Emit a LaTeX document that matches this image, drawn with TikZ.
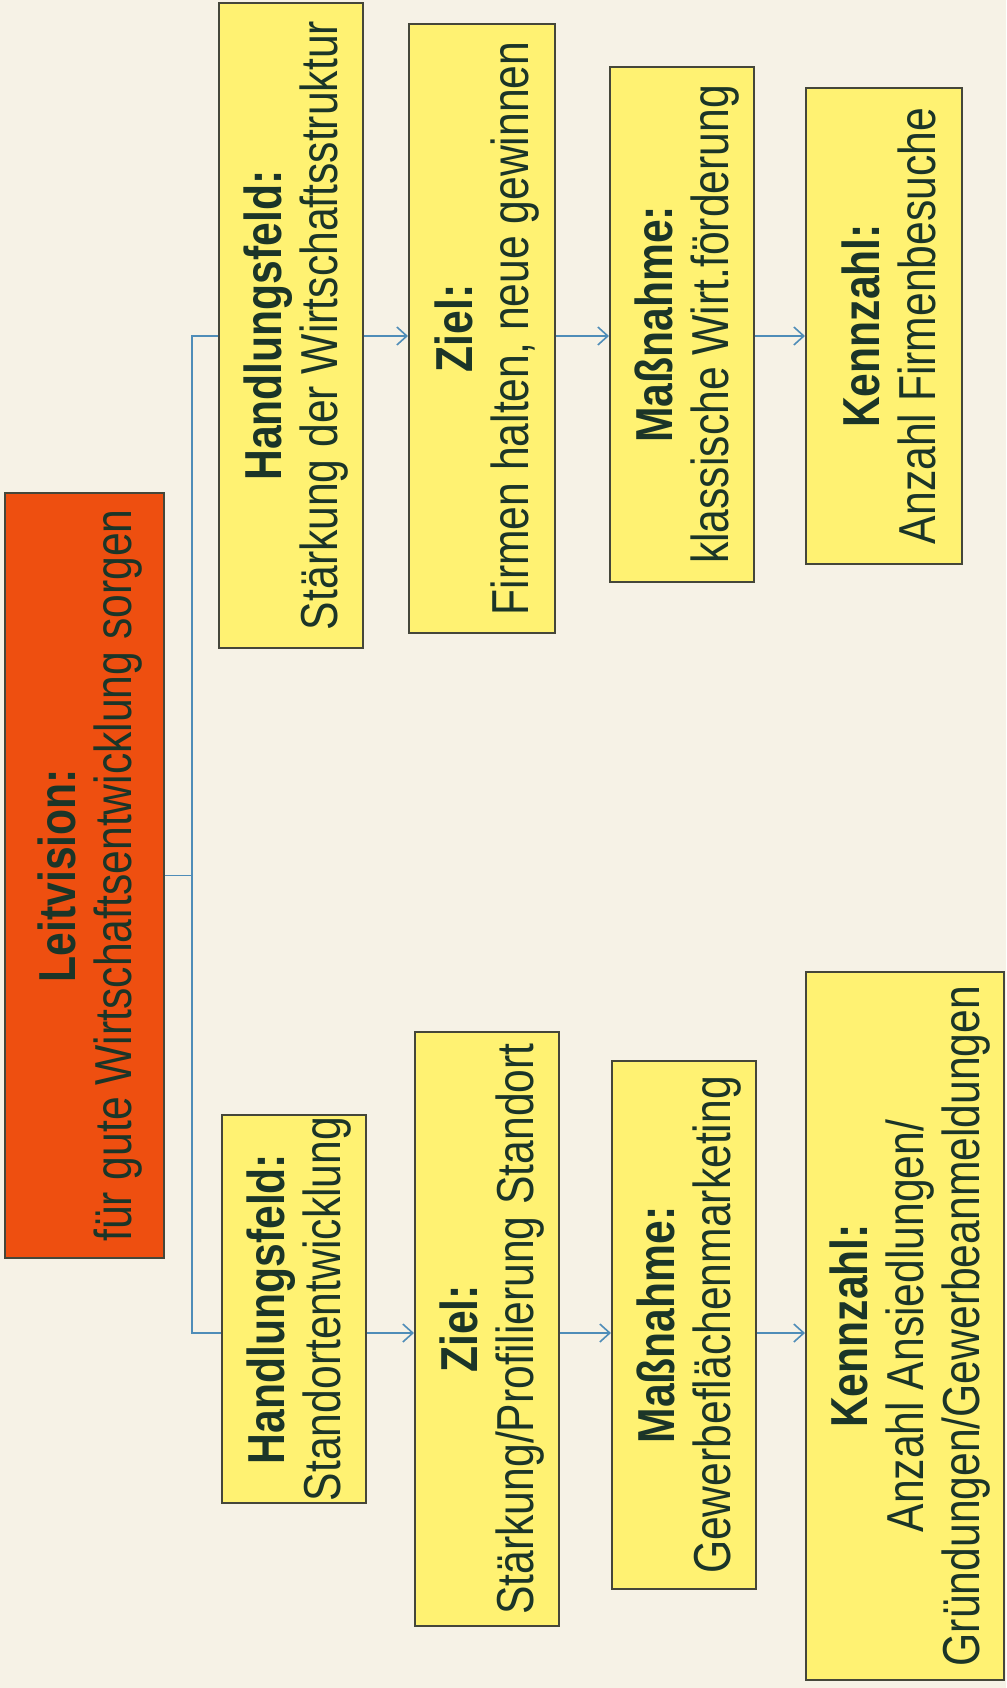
\documentclass[tikz,border=0pt]{standalone}
\usepackage{fontspec}
\setmainfont[FakeStretch=0.82]{Liberation Sans}
\usetikzlibrary{arrows.meta}
\definecolor{bgc}{HTML}{F6F2E6}
\definecolor{boxy}{HTML}{FFF272}
\definecolor{boxo}{HTML}{EE4F10}
\definecolor{edgec}{HTML}{45473A}
\definecolor{txtc}{HTML}{1B3528}
\definecolor{connc}{HTML}{4F8DB8}
\newcommand{\hd}[1]{\rule{0pt}{48pt}{\bfseries #1}}
\begin{document}
\begin{tikzpicture}[x=1pt,y=-1pt,
  box/.style={draw=edgec, line width=2pt, fill=boxy, rotate=90, align=center,
    text=txtc, font=\fontsize{52}{56}\selectfont, inner sep=0pt},
  conn/.style={draw=connc, line width=1.6pt},
  arr/.style={conn, -{Straight Barb[length=10pt,width=18pt,line width=1.6pt]}}]
\fill[bgc] (0,0) rectangle (1006,1688);
\useasboundingbox (0,0) rectangle (1006,1688);

\node[box, fill=boxo, minimum width=765pt, minimum height=159pt] (lv) at (84.5,875.5)
  {\hd{Leitvision:}\\für gute Wirtschaftsentwicklung sorgen};

\node[box, minimum width=645pt, minimum height=144pt] (hf1) at (291,325.5)
  {\hd{Handlungsfeld:}\\Stärkung der Wirtschaftsstruktur};
\node[box, minimum width=609pt, minimum height=146pt] (z1) at (482,328.5)
  {\hd{Ziel:}\\Firmen halten, neue gewinnen};
\node[box, minimum width=515pt, minimum height=144pt] (m1) at (682,324.5)
  {\hd{Maßnahme:}\\klassische Wirt.förderung};
\node[box, minimum width=476pt, minimum height=156pt] (k1) at (884,326)
  {\hd{Kennzahl:}\\Anzahl Firmenbesuche};

\node[box, minimum width=388pt, minimum height=144pt] (hf2) at (294,1309)
  {\hd{Handlungsfeld:}\\Standortentwicklung};
\node[box, minimum width=594pt, minimum height=144pt] (z2) at (487,1329)
  {\hd{Ziel:}\\Stärkung/Profilierung Standort};
\node[box, minimum width=528pt, minimum height=144pt] (m2) at (684,1325)
  {\hd{Maßnahme:}\\Gewerbeflächenmarketing};
\node[box, minimum width=708pt, minimum height=198pt] (k2) at (905,1326)
  {\hd{Kennzahl:}\\Anzahl Ansiedlungen/\\Gründungen/Gewerbeanmeldungen};

\coordinate (t) at (192,336);
\coordinate (b) at (192,1333);

\draw[conn] (lv.south) -- (lv.south -| t);
\draw[conn] (hf1.north |- t) -- (t) -- (b) -- (hf2.north |- b);

\draw[arr] (hf1.south |- t) -- (z1.north |- t);
\draw[arr] (z1.south |- t) -- (m1.north |- t);
\draw[arr] (m1.south |- t) -- (k1.north |- t);

\draw[arr] (hf2.south |- b) -- (z2.north |- b);
\draw[arr] (z2.south |- b) -- (m2.north |- b);
\draw[arr] (m2.south |- b) -- (k2.north |- b);
\end{tikzpicture}
\end{document}
